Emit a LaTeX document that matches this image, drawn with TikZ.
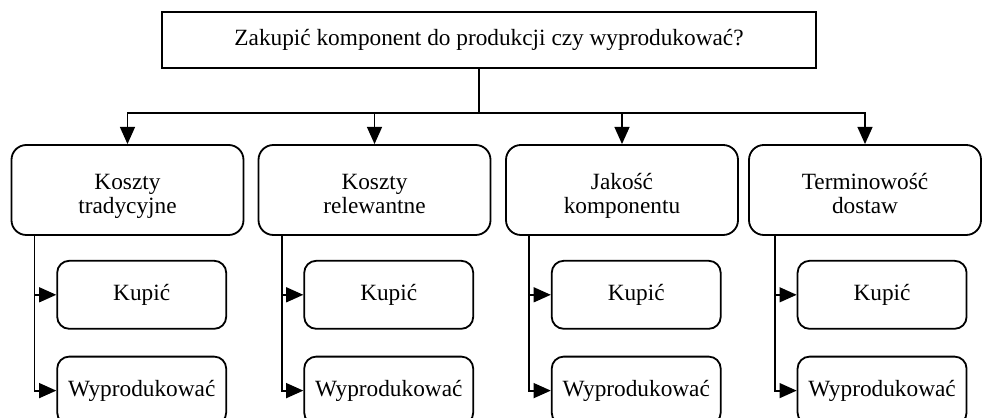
\documentclass[tikz,border=0pt]{standalone}
\usepackage{fontspec}
\setmainfont{Liberation Serif}
\usetikzlibrary{positioning,arrows.meta}

\begin{document}
\begin{tikzpicture}[font = \fontsize{11.6}{12.2}\selectfont,
        line width = 0.9pt,
        arr/.style = {-{Triangle[length=0.3cm,width=0.26cm]}},
        question/.style = {draw, minimum width=11.445cm, minimum height=0.98cm},
        factor/.style = {draw, rounded corners=0.26cm, align=center,
            text height=0.84cm, text depth=0pt,
            minimum width=4.06cm, minimum height=1.575cm},
        choice/.style = {draw, rounded corners=0.21cm,
            minimum width=2.9575cm, minimum height=1.19cm, inner sep=1pt}]
        \useasboundingbox (0,0) rectangle (17.185,-7.315);

        \node[question] (top) at (8.5575,-0.70)
            {Zakupić komponent do produkcji czy wyprodukować?};
        \coordinate (split) at (8.3825,-1.9775);

        \node[factor] (k1) at (2.231,-3.325) {Koszty\\tradycyjne};
        \node[factor] (k2) at (6.554,-3.325) {Koszty\\relewantne};
        \node[factor] (k3) at (10.885,-3.325) {Jakość\\komponentu};
        \node[factor] (k4) at (15.1375,-3.325) {Terminowość\\dostaw};

        \node[choice, below right = 0.42cm and 0.8cm of k1.south west] (buy1) {Kupić};
        \node[choice, below = 0.455cm of buy1] (make1) {Wyprodukować};
        \node[choice, below right = 0.42cm and 0.8cm of k2.south west] (buy2) {Kupić};
        \node[choice, below = 0.455cm of buy2] (make2) {Wyprodukować};
        \node[choice, below right = 0.42cm and 0.8cm of k3.south west] (buy3) {Kupić};
        \node[choice, below = 0.455cm of buy3] (make3) {Wyprodukować};
        \node[choice, below right = 0.42cm and 0.85cm of k4.south west] (buy4) {Kupić};
        \node[choice, below = 0.455cm of buy4] (make4) {Wyprodukować};

        % question -> factors
        \draw (split |- top.south) -- (split);
        \draw[arr] (split) -| (k1.north);
        \draw[arr] (split) -| (k4.north);
        \draw[arr] (k2.north |- split) -- (k2.north);
        \draw[arr] (k3.north |- split) -- (k3.north);

        % factors -> choices
        \draw[arr] (k1.south west) ++(0.42,0) |- (buy1);
        \draw[arr] (k1.south west) ++(0.42,0) |- (make1);
        \draw[arr] (k2.south west) ++(0.42,0) |- (buy2);
        \draw[arr] (k2.south west) ++(0.42,0) |- (make2);
        \draw[arr] (k3.south west) ++(0.42,0) |- (buy3);
        \draw[arr] (k3.south west) ++(0.42,0) |- (make3);
        \draw[arr] (k4.south west) ++(0.47,0) |- (buy4);
        \draw[arr] (k4.south west) ++(0.47,0) |- (make4);
    \end{tikzpicture}
\end{document}
